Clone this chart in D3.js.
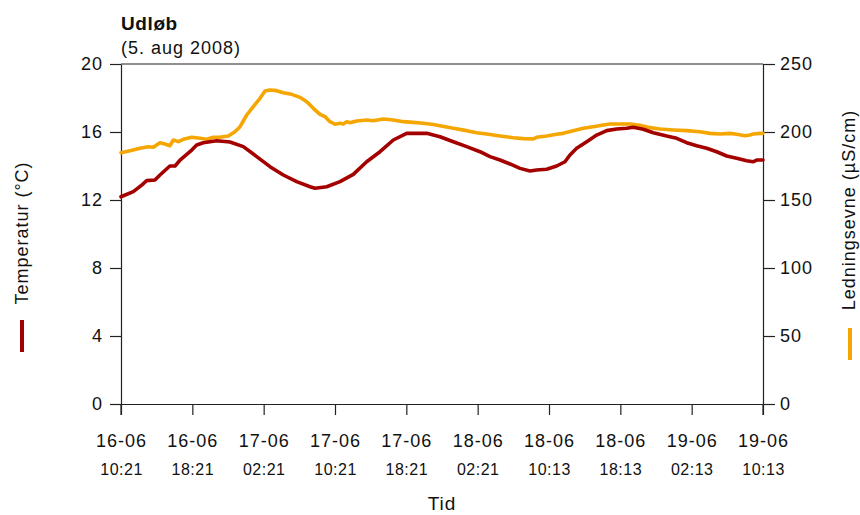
<!DOCTYPE html>
<html>
<head>
<meta charset="utf-8">
<script src="https://cdn.jsdelivr.net/npm/d3@7"></script>
<style>
  body { margin: 0; background: #fff; }
  svg text { font-family: "Liberation Sans", Arial, Helvetica, sans-serif; fill: #111; }
</style>
</head>
<body>
<svg id="chart" width="860" height="515"></svg>
<script>
// Time axis: hours since 16-06 10:21, labelled every 8 hours
const tickHours = [0, 8, 16, 24, 32, 40, 48, 56, 64, 72];
const tickDates = ["16-06", "16-06", "17-06", "17-06", "17-06", "18-06", "18-06", "18-06", "19-06", "19-06"];
const tickTimes = ["10:21", "18:21", "02:21", "10:21", "18:21", "02:21", "10:13", "18:13", "02:13", "10:13"];

const tempTicks = [0, 4, 8, 12, 16, 20];
const condTicks = [0, 50, 100, 150, 200, 250];

// Water temperature (°C)
const tempHours = [0, 1.38, 2.32, 2.88, 3.81, 4.37, 5.48, 6.06, 6.62, 7.93, 8.49, 9.23, 10.73, 12.22,
  13.72, 15.22, 16.71, 18.2, 19.7, 21.2, 21.76, 23.07, 24.56, 26.05, 27.55, 29.05, 30.54, 32.04,
  34.28, 35.77, 37.27, 38.77, 40.26, 41.38, 42.5, 43.63, 44.75, 45.87, 46.62, 47.74, 48.86, 49.79,
  50.35, 51.1, 52.23, 53.35, 54.47, 55.59, 56.71, 57.45, 58.57, 59.7, 61.2, 62.32, 63.44, 64.56,
  65.68, 66.81, 67.93, 69.05, 70.17, 70.91, 71.29, 72];
const tempValues = [12.19, 12.49, 12.88, 13.14, 13.18, 13.47, 14.0, 14.0, 14.35, 14.94, 15.24, 15.37, 15.49, 15.41,
  15.14, 14.55, 13.96, 13.47, 13.08, 12.78, 12.69, 12.78, 13.08, 13.51, 14.25, 14.84, 15.53, 15.92,
  15.92, 15.72, 15.43, 15.14, 14.84, 14.55, 14.35, 14.12, 13.86, 13.71, 13.76, 13.81, 14.0, 14.25,
  14.65, 15.04, 15.43, 15.82, 16.08, 16.18, 16.22, 16.28, 16.16, 15.96, 15.76, 15.63, 15.37, 15.19,
  15.04, 14.84, 14.59, 14.45, 14.31, 14.25, 14.35, 14.35];

// Conductivity (µS/cm)
const condHours = [0, 1.01, 2.13, 3.06, 3.62, 4.37, 4.93, 5.48, 5.87, 6.43, 6.99, 7.93, 8.86, 9.61,
  10.35, 11.1, 12.03, 12.78, 13.35, 14.1, 14.84, 15.59, 16.15, 16.71, 17.46, 18.2, 19.14, 20.07,
  20.83, 21.57, 22.32, 22.88, 23.44, 24.0, 24.56, 24.93, 25.31, 25.68, 26.43, 27.55, 28.29, 29.41,
  30.54, 31.66, 32.78, 33.9, 35.02, 35.77, 37.27, 38.77, 39.89, 41.01, 42.5, 44.0, 45.12, 46.24,
  46.62, 47.74, 48.86, 49.6, 50.72, 51.85, 52.97, 54.09, 54.84, 55.96, 57.08, 58.2, 59.32, 60.45,
  61.94, 63.44, 64.93, 66.05, 67.17, 68.3, 69.05, 69.98, 70.54, 70.91, 71.66, 72];
const condValues = [184.8, 186.2, 188.0, 189.2, 188.8, 192.1, 191.2, 189.9, 194.1, 192.9, 194.6, 196.1, 195.4, 194.6,
  196.1, 196.1, 197.1, 200.2, 203.9, 212.5, 218.6, 224.8, 230.1, 230.9, 230.4, 228.9, 227.7, 225.5,
  222.3, 217.4, 213.0, 211.3, 207.6, 205.7, 206.4, 205.9, 207.6, 206.8, 208.1, 208.8, 208.3, 209.6,
  208.8, 207.6, 207.1, 206.4, 205.5, 204.6, 202.7, 201.0, 199.5, 198.5, 197.1, 195.8, 195.1, 194.9,
  196.1, 197.1, 198.3, 199.0, 201.0, 202.7, 203.9, 205.1, 205.9, 205.9, 205.9, 204.9, 203.2, 202.2,
  201.5, 201.0, 200.2, 199.0, 198.5, 199.0, 198.3, 197.3, 197.8, 198.5, 199.0, 199.0];

const tempColor = "#a40000";
const condColor = "#f5a600";

const svg = d3.select("#chart");
const plotLeft = 121, plotRight = 763, plotTop = 64, plotBottom = 404;

const x = d3.scaleLinear().domain([0, 72]).range([plotLeft, plotRight]);
const yT = d3.scaleLinear().domain([0, 20]).range([plotBottom, plotTop]);
const yC = d3.scaleLinear().domain([0, 250]).range([plotBottom, plotTop]);

const axisColor = "#222";

// Top frame line
svg.append("line")
  .attr("x1", plotLeft).attr("x2", plotRight).attr("y1", plotTop).attr("y2", plotTop)
  .attr("stroke", axisColor).attr("stroke-width", 1.2);

// Left axis (temperature)
const gL = svg.append("g").attr("transform", `translate(${plotLeft},0)`)
  .call(d3.axisLeft(yT).tickValues(tempTicks).tickSize(11).tickPadding(7).tickSizeOuter(0));
// Right axis (conductivity)
const gR = svg.append("g").attr("transform", `translate(${plotRight},0)`)
  .call(d3.axisRight(yC).tickValues(condTicks).tickSize(12).tickPadding(5).tickSizeOuter(0));
// Bottom axis (time)
const gB = svg.append("g").attr("transform", `translate(0,${plotBottom})`)
  .call(d3.axisBottom(x).tickValues(tickHours).tickSize(11).tickSizeOuter(0).tickFormat(""));

[gL, gR, gB].forEach(g => {
  g.attr("font-family", null);
  g.select(".domain").attr("stroke", axisColor).attr("stroke-width", 1.2);
  g.selectAll(".tick line").attr("stroke", axisColor).attr("stroke-width", 1.2);
  g.selectAll(".tick text").attr("font-size", 18).attr("letter-spacing", 1).attr("fill", "#111");
});

// Vertical axis lines continue down through the time axis
[plotLeft, plotRight].forEach(px => {
  svg.append("line").attr("x1", px).attr("x2", px).attr("y1", plotBottom).attr("y2", plotBottom + 11)
    .attr("stroke", axisColor).attr("stroke-width", 1.2);
});

// Two-line time labels
gB.selectAll(".tick").each(function (d, i) {
  const t = d3.select(this).append("text").attr("text-anchor", "middle").attr("fill", "#111");
  t.append("tspan").attr("x", 0).attr("y", 43).attr("font-size", 18).attr("letter-spacing", 1)
    .text(tickDates[i]);
  t.append("tspan").attr("x", 0).attr("y", 71).attr("font-size", 16).attr("letter-spacing", 0.5)
    .text(tickTimes[i]);
});

// Data lines
const lineT = d3.line().x((d, i) => x(tempHours[i])).y(d => yT(d));
const lineC = d3.line().x((d, i) => x(condHours[i])).y(d => yC(d));

svg.append("path").datum(condValues)
  .attr("d", lineC).attr("fill", "none").attr("stroke", condColor)
  .attr("stroke-width", 3.6).attr("stroke-linejoin", "round").attr("stroke-linecap", "round");

svg.append("path").datum(tempValues)
  .attr("d", lineT).attr("fill", "none").attr("stroke", tempColor)
  .attr("stroke-width", 3.6).attr("stroke-linejoin", "round").attr("stroke-linecap", "round");

// Title
svg.append("text").attr("x", plotLeft).attr("y", 30)
  .attr("font-size", 19).attr("font-weight", "bold").attr("letter-spacing", 0.6).text("Udløb");
svg.append("text").attr("x", plotLeft).attr("y", 54)
  .attr("font-size", 18).attr("letter-spacing", 1).text("(5. aug 2008)");

// X axis title
svg.append("text").attr("x", (plotLeft + plotRight) / 2).attr("y", 510)
  .attr("text-anchor", "middle").attr("font-size", 19).attr("letter-spacing", 1).text("Tid");

// Left series label with colour key
svg.append("text").attr("transform", "translate(28,233) rotate(-90)")
  .attr("text-anchor", "middle").attr("font-size", 18).attr("letter-spacing", 1)
  .text("Temperatur (°C)");
svg.append("line").attr("x1", 22).attr("x2", 22).attr("y1", 320).attr("y2", 352)
  .attr("stroke", tempColor).attr("stroke-width", 4);

// Right series label with colour key
svg.append("text").attr("transform", "translate(855,210) rotate(-90)")
  .attr("text-anchor", "middle").attr("font-size", 18).attr("letter-spacing", 1)
  .text("Ledningsevne (µS/cm)");
svg.append("line").attr("x1", 850).attr("x2", 850).attr("y1", 328).attr("y2", 360)
  .attr("stroke", condColor).attr("stroke-width", 4);
</script>
</body>
</html>
